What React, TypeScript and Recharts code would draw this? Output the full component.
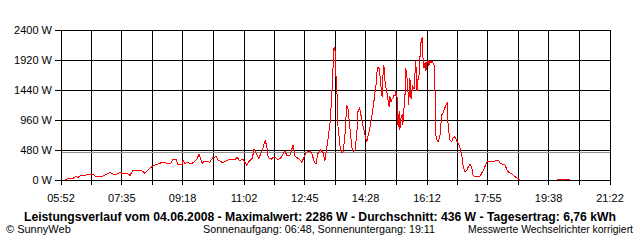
import React from "react";
import { LineChart, Line, XAxis, YAxis, CartesianGrid, ReferenceLine } from "recharts";

// minutes since midnight
const times: number[] = [
  359, 364, 371, 377, 381, 384, 393, 396, 401, 406, 411, 418, 423, 430, 435, 440, 447, 452, 457, 464,
  469, 474, 481, 486, 491, 494, 499, 508, 516, 525, 532, 537, 542, 547, 550, 557, 559, 562, 567, 571,
  576, 582, 586, 591, 594, 599, 604, 609, 615, 618, 625, 630, 635, 642, 647, 650, 655, 660, 667, 670,
  676, 679, 684, 687, 692, 694, 698, 701, 703, 708, 711, 716, 720, 726, 731, 735, 740, 745, 748, 753,
  757, 760, 765, 769, 774, 777, 781, 784, 787, 792, 796, 799, 803, 808, 811, 813, 814, 816, 818, 820,
  821, 825, 828, 830, 833, 836, 838, 842, 845, 847, 850, 853, 855, 858, 862, 864, 867, 870, 872, 874,
  877, 881, 884, 886, 887, 889, 891, 892, 894, 896, 897, 899, 901, 903, 904, 906, 908, 909, 911, 913,
  914, 916, 918, 919, 921, 923, 925, 926, 928, 930, 931, 933, 935, 936, 938, 940, 941, 943, 945, 947,
  948, 950, 952, 953, 955, 957, 958, 960, 962, 964, 965, 967, 969, 970, 972, 974, 975, 977, 979, 980,
  982, 984, 986, 987, 989, 991, 994, 997, 999, 1003, 1006, 1008, 1011, 1014, 1016, 1019, 1023, 1025, 1028, 1031,
  1033, 1036, 1040, 1042, 1045, 1048, 1050, 1053, 1057, 1062, 1067, 1074, 1079, 1084, 1089, 1094, 1096, 1101, 1104, 1109,
  1116, 1121, 1126, 1130, 1150, 1192, 1214,
];

const watts: (number | null)[] = [
  10, 21, 21, 53, 43, 64, 69, 96, 85, 90, 53, 64, 64, 96, 117, 96, 96, 117, 107, 107,
  75, 160, 149, 160, 139, 107, 160, 229, 256, 288, 267, 256, 331, 331, 245, 240, 309, 267, 283, 256,
  277, 331, 416, 267, 293, 299, 283, 357, 373, 320, 283, 293, 320, 331, 331, 363, 309, 331, 235, 293,
  347, 491, 400, 347, 453, 507, 640, 507, 363, 331, 363, 352, 320, 373, 469, 384, 395, 560, 389, 347,
  320, 283, 400, 453, 459, 420, 293, 251, 420, 480, 437, 304, 560, 933, 1413, 1840, 2107, 2117, 1627, 1307,
  880, 507, 427, 453, 720, 1200, 1150, 773, 507, 453, 480, 720, 1093, 1157, 933, 853, 720, 613, 700, 773,
  933, 1173, 1413, 1547, 1707, 1813, 1780, 1700, 1500, 1333, 1627, 1840, 1573, 1450, 1400, 1280, 1173, 1340, 1250, 1310,
  1300, 1350, 1350, 1413, 1380, 853, 1100, 800, 1000, 1050, 880, 1150, 1400, 1792, 1650, 1392, 1205, 1632, 1300, 1450,
  1500, 1450, 1750, 1899, 1419, 1632, 1600, 1952, 2219, 2286, 1980, 1792, 1880, 1739, 1880, 1900, 1820, 1900, 1880, 1900,
  1880, 1840, 1310, 720, 640, 613, 720, 1040, 1067, 1173, 1227, 827, 640, 613, 667, 693, 613, 587, 507, 400,
  240, 133, 160, 213, 251, 187, 80, 53, 53, 64, 149, 293, 293, 288, 309, 309, 267, 251, 240, 133,
  96, 53, 21, 0, null, 16, 16,
];

const xTickLabels: string[] = ["05:52", "07:35", "09:18", "11:02", "12:45", "14:28", "16:12", "17:55", "19:38", "21:22"];
const yTicks: number[] = [0, 480, 960, 1440, 1920, 2400];
const averageW = 436;

const titleText = "Leistungsverlauf vom 04.06.2008 - Maximalwert: 2286 W - Durchschnitt: 436 W - Tagesertrag: 6,76 kWh";
const footLeft = "© SunnyWeb";
const footMid = "Sonnenaufgang: 06:48, Sonnenuntergang: 19:11";
const footRight = "Messwerte Wechselrichter korrigiert";

const toMin = (s: string) => {
  const [h, m] = s.split(":").map(Number);
  return h * 60 + m;
};

const labelTicks = xTickLabels.map(toMin);
const allTicks: number[] = [];
labelTicks.forEach((t, i) => {
  allTicks.push(t);
  if (i < labelTicks.length - 1) allTicks.push((t + labelTicks[i + 1]) / 2);
});
const labelMap = new Map<number, string>();
labelTicks.forEach((t, i) => labelMap.set(t, xTickLabels[i]));

const data = times.map((t, i) => ({ t, w: watts[i] }));

const FONT = "'Liberation Sans', Arial, sans-serif";

const css = `
.recharts-cartesian-grid line,
.recharts-cartesian-axis line,
.recharts-reference-line line,
.recharts-line-curve { shape-rendering: crispEdges; }
`;

export default function App() {
  return (
    <div style={{ position: "fixed", left: 0, top: 0, width: 640, height: 240, background: "#fff" }}>
      <style>{css}</style>
      <LineChart width={640} height={240} data={data} margin={{ top: 30, right: 30, bottom: 0, left: 0 }}>
        <CartesianGrid stroke="#000" strokeWidth={1} vertical horizontal />
        <XAxis
          dataKey="t"
          type="number"
          domain={[labelTicks[0], labelTicks[labelTicks.length - 1]]}
          ticks={allTicks}
          interval={0}
          height={60}
          tickSize={5}
          tickMargin={9}
          stroke="#000"
          tick={{ fill: "#000", fontSize: 11, fontFamily: FONT }}
          tickFormatter={(v: number) => labelMap.get(v) ?? ""}
          allowDataOverflow
        />
        <YAxis
          type="number"
          domain={[0, 2400]}
          ticks={yTicks}
          interval={0}
          width={61}
          tickSize={6}
          tickMargin={3}
          stroke="#000"
          tick={{ fill: "#000", fontSize: 11, fontFamily: FONT }}
          tickFormatter={(v: number) => `${v} W`}
        />
        <ReferenceLine y={averageW} stroke="#909090" strokeWidth={1} ifOverflow="extendDomain" />
        <Line
          type="linear"
          dataKey="w"
          stroke="#ff0000"
          strokeWidth={1}
          dot={false}
          activeDot={false}
          connectNulls={false}
          isAnimationActive={false}
        />
      </LineChart>
      <svg width={640} height={240} style={{ position: "absolute", left: 0, top: 0, pointerEvents: "none" }}>
        <text x={24} y={221} fontFamily={FONT} fontSize={12} fontWeight="bold" fill="#000" textLength={592} lengthAdjust="spacingAndGlyphs">
          {titleText}
        </text>
        <text x={6} y={232.5} fontFamily={FONT} fontSize={11} fill="#000">
          {footLeft}
        </text>
        <text x={203} y={232.5} fontFamily={FONT} fontSize={11} fill="#000" textLength={232} lengthAdjust="spacingAndGlyphs">
          {footMid}
        </text>
        <text x={468} y={232.5} fontFamily={FONT} fontSize={11} fill="#000" textLength={165} lengthAdjust="spacingAndGlyphs">
          {footRight}
        </text>
      </svg>
    </div>
  );
}
